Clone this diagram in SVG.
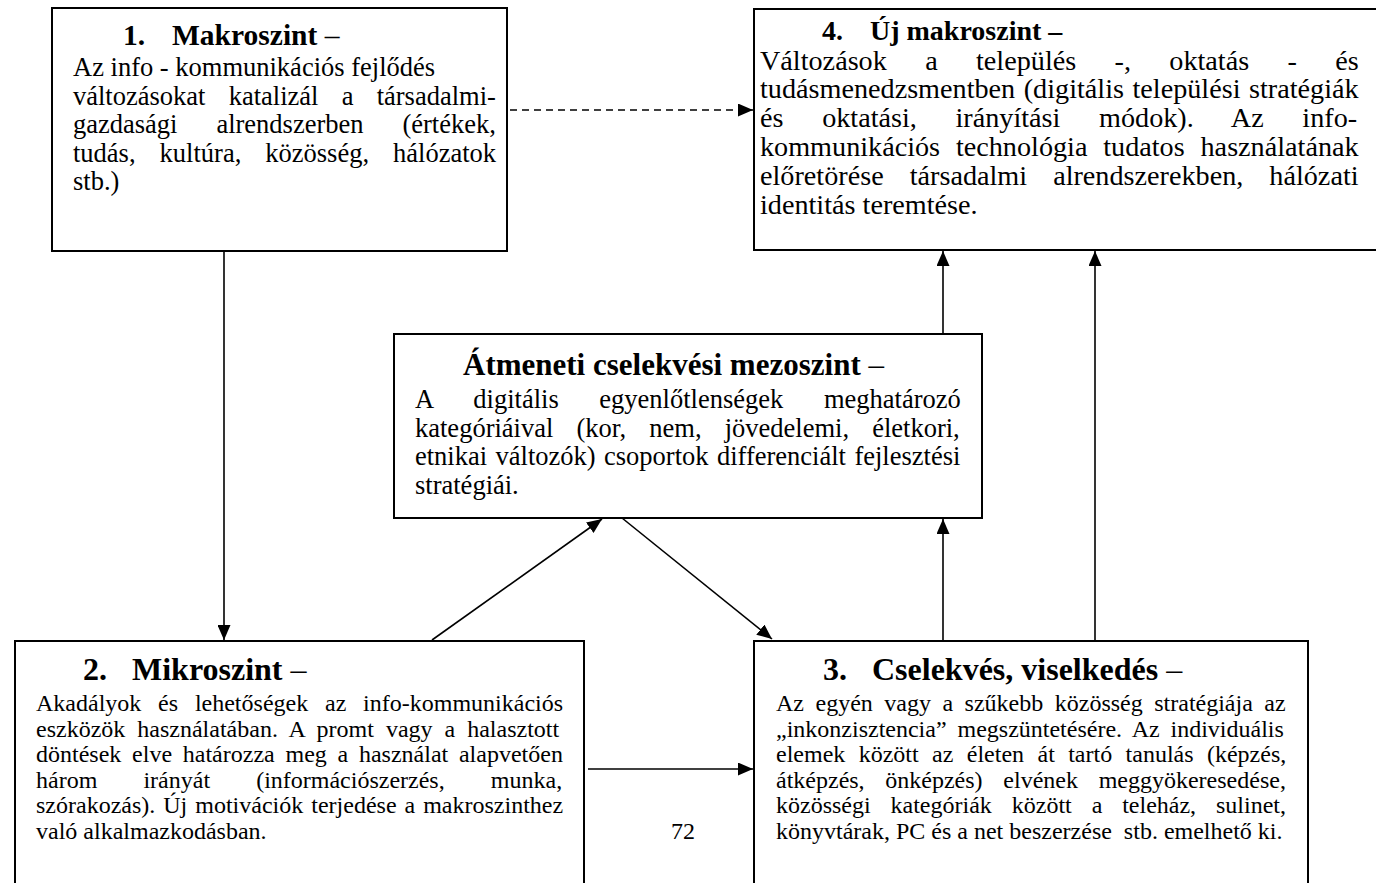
<svg xmlns="http://www.w3.org/2000/svg" width="1376" height="883" viewBox="0 0 1376 883">
<style>
.box{fill:#fff;stroke:#000;stroke-width:2}
.t{font-family:"Liberation Serif","Times New Roman",serif;fill:#000}
.ti{font-weight:bold}
.dash{font-weight:normal}
.f265{font-size:26.5px}
.f282{font-size:28.2px}
.f24{font-size:24px}
.con{stroke:#000;stroke-width:1.6;fill:none}
</style>
<defs>
<marker id="ah" markerUnits="userSpaceOnUse" markerWidth="15" markerHeight="13" refX="15" refY="6.5" orient="auto">
<path d="M0,0 L15,6.5 L0,13 z" fill="#000"/>
</marker>
</defs>
<rect width="1376" height="883" fill="#fff"/>

<g id="connectors">
<line class="con" x1="224" y1="251" x2="224" y2="640" marker-end="url(#ah)"/>
<line class="con" x1="510" y1="110" x2="753" y2="110" stroke-dasharray="7,5" marker-end="url(#ah)"/>
<line class="con" x1="432" y1="640" x2="602" y2="519" marker-end="url(#ah)"/>
<line class="con" x1="622" y1="518" x2="772" y2="639" marker-end="url(#ah)"/>
<line class="con" x1="588" y1="769" x2="753" y2="769" marker-end="url(#ah)"/>
<line class="con" x1="943" y1="640" x2="943" y2="519" marker-end="url(#ah)"/>
<line class="con" x1="943" y1="334" x2="943" y2="251" marker-end="url(#ah)"/>
<line class="con" x1="1095" y1="640" x2="1095" y2="251" marker-end="url(#ah)"/>
</g>

<g id="node1">
<rect class="box" x="52" y="8" width="455" height="243"/>
<text class="t ti" y="45" font-size="29.5"><tspan x="123">1.</tspan><tspan x="172">Makroszint</tspan><tspan class="dash"> –</tspan></text>
<g class="t f265">
<text x="73" y="76">Az info - kommunikációs fejlődés</text>
<text x="73" y="104.5" word-spacing="16.6">változásokat katalizál a társadalmi-</text>
<text x="73" y="133" word-spacing="32.3">gazdasági alrendszerben (értékek,</text>
<text x="73" y="161.5" word-spacing="17.4">tudás, kultúra, közösség, hálózatok</text>
<text x="73" y="190">stb.)</text>
</g>
</g>

<g id="node4">
<rect class="box" x="754" y="9" width="640" height="241"/>
<text class="t ti" y="40" font-size="28"><tspan x="822">4.</tspan><tspan x="870">Új makroszint –</tspan></text>
<g class="t f282">
<text x="760" y="69.5" word-spacing="31.3">Változások a település -, oktatás - és</text>
<text x="760" y="98.3" word-spacing="1.5">tudásmenedzsmentben (digitális települési stratégiák</text>
<text x="760" y="127.1" word-spacing="31.6">és oktatási, irányítási módok). Az info-</text>
<text x="760" y="155.9" word-spacing="8.8">kommunikációs technológia tudatos használatának</text>
<text x="760" y="184.7" word-spacing="19">előretörése társadalmi alrendszerekben, hálózati</text>
<text x="760" y="213.5">identitás teremtése.</text>
</g>
</g>

<g id="node-mezo">
<rect class="box" x="394" y="334" width="588" height="184"/>
<text class="t ti" x="463" y="375" font-size="31">Átmeneti cselekvési mezoszint<tspan class="dash"> –</tspan></text>
<g class="t f265">
<text x="415" y="408" word-spacing="34">A digitális egyenlőtlenségek meghatározó</text>
<text x="415" y="436.5" word-spacing="16.5">kategóriáival (kor, nem, jövedelemi, életkori,</text>
<text x="415" y="465" word-spacing="1.8">etnikai változók) csoportok differenciált fejlesztési</text>
<text x="415" y="493.5">stratégiái.</text>
</g>
</g>

<g id="node2">
<rect class="box" x="15" y="641" width="569" height="260"/>
<text class="t ti" y="680" font-size="32"><tspan x="83">2.</tspan><tspan x="132">Mikroszint</tspan><tspan class="dash"> –</tspan></text>
<g class="t f24">
<text x="36" y="711" word-spacing="10.8">Akadályok és lehetőségek az info-kommunikációs</text>
<text x="36" y="736.6" word-spacing="6">eszközök használatában. A promt vagy a halasztott</text>
<text x="36" y="762.2" word-spacing="4.75">döntések elve határozza meg a használat alapvetően</text>
<text x="36" y="787.8" word-spacing="40.1">három irányát (információszerzés, munka,</text>
<text x="36" y="813.4" word-spacing="2">szórakozás). Új motivációk terjedése a makroszinthez</text>
<text x="36" y="839">való alkalmazkodásban.</text>
</g>
</g>

<g id="node3">
<rect class="box" x="754" y="641" width="554" height="260"/>
<text class="t ti" y="680" font-size="32"><tspan x="823">3.</tspan><tspan x="872">Cselekvés, viselkedés</tspan><tspan class="dash"> –</tspan></text>
<g class="t f24">
<text x="776" y="711" word-spacing="5.5">Az egyén vagy a szűkebb közösség stratégiája az</text>
<text x="776" y="736.6" word-spacing="4.9">„inkonzisztencia” megszüntetésére. Az individuális</text>
<text x="776" y="762.2" word-spacing="7.4">elemek között az életen át tartó tanulás (képzés,</text>
<text x="776" y="787.8" word-spacing="14.7">átképzés, önképzés) elvének meggyökeresedése,</text>
<text x="776" y="813.4" word-spacing="13.9">közösségi kategóriák között a teleház, sulinet,</text>
<text x="776" y="839">könyvtárak, PC és a net beszerzése&#160; stb. emelhető ki.</text>
</g>
</g>

<text id="page-number" class="t f24" x="683" y="839" text-anchor="middle">72</text>
</svg>
